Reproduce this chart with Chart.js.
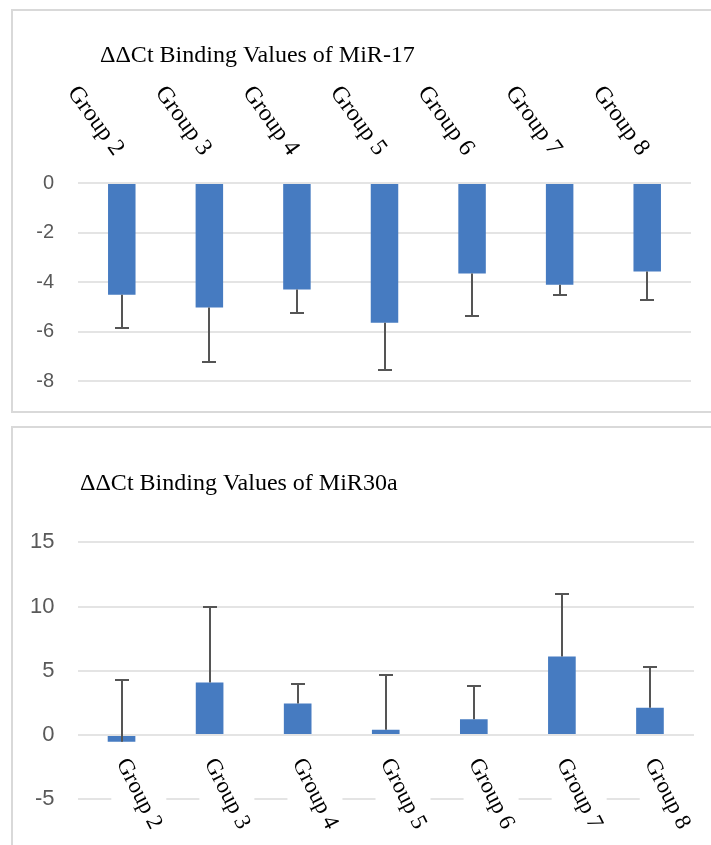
<!DOCTYPE html>
<html>
<head>
<meta charset="utf-8">
<script src="https://cdn.jsdelivr.net/npm/chart.js@4"></script>
<style>
  html, body { margin: 0; padding: 0; background: #fff; }
  body { width: 711px; height: 845px; overflow: hidden; position: relative; }
  .panel { position: absolute; left: 11px; width: 800px; border: 2px solid #d9d9d9; box-sizing: border-box; }
  #p1 { top: 9px; height: 404px; }
  #p2 { top: 426px; height: 500px; }
  canvas { position: absolute; left: 0; }
  #c1 { top: 0; }
  #c2 { top: 420px; }
</style>
</head>
<body>
<div class="panel" id="p1"></div>
<div class="panel" id="p2"></div>
<canvas id="c1" width="711" height="420"></canvas>
<canvas id="c2" width="711" height="425"></canvas>
<script>
// ---- data ----
const categories = ['Group 2', 'Group 3', 'Group 4', 'Group 5', 'Group 6', 'Group 7', 'Group 8'];
const mir17Values = [-4.52, -5.03, -4.30, -5.65, -3.66, -4.11, -3.58];
const mir17Errors = [1.33, 2.20, 0.96, 1.90, 1.72, 0.42, 1.15];   // drawn downward
const mir30aValues = [-0.52, 4.08, 2.46, 0.41, 1.23, 6.12, 2.12];
const mir30aErrors = [4.83, 5.86, 1.51, 4.25, 2.62, 4.88, 3.20];  // drawn upward
const mir17Ticks = [0, -2, -4, -6, -8];
const mir30aTicks = [15, 10, 5, 0, -5];
const mir17Title = 'ΔΔCt Binding Values of MiR-17';
const mir30aTitle = 'ΔΔCt Binding Values of MiR30a';

const BAR_COLOR = '#467bc1';
const GRID_COLOR = '#e4e4e4';
const TICK_COLOR = '#595959';
const ERR_COLOR = '#555555';

function errorBarPlugin(errors, direction) {
  return {
    id: 'errorBars',
    afterDatasetsDraw(chart) {
      const ctx = chart.ctx;
      const ys = chart.scales.y;
      const meta = chart.getDatasetMeta(0);
      const vals = chart.data.datasets[0].data;
      ctx.save();
      ctx.strokeStyle = ERR_COLOR;
      ctx.lineWidth = 2;
      meta.data.forEach((bar, i) => {
        const v = vals[i];
        const end = v + direction * errors[i];
        const x = Math.round(bar.x);
        const y0 = ys.getPixelForValue(v);
        const y1 = Math.round(ys.getPixelForValue(end));
        ctx.beginPath();
        ctx.moveTo(x, y0);
        ctx.lineTo(x, y1);
        ctx.moveTo(x - 7, y1);
        ctx.lineTo(x + 7, y1);
        ctx.stroke();
      });
      ctx.restore();
    }
  };
}

function labelPlugin(cfg) {
  return {
    id: 'catLabels',
    afterDraw(chart) {
      const ctx = chart.ctx;
      const xs = chart.scales.x;
      const ys = chart.scales.y;
      const ang = cfg.angle * Math.PI / 180;
      const cos = Math.cos(ang), sin = Math.sin(ang);
      const baseY = cfg.atZero ? ys.getPixelForValue(0) : chart.chartArea.top;
      ctx.save();
      ctx.font = cfg.font;
      ctx.textBaseline = 'middle';
      ctx.textAlign = cfg.align;
      const items = categories.map((c, i) => ({ c, ax: xs.getPixelForValue(i) + cfg.dx, ay: baseY + cfg.dy }));
      if (cfg.clear) {
        ctx.fillStyle = '#fff';
        items.forEach(it => {
          const w = ctx.measureText(it.c).width;
          const h = cfg.size;
          const t0 = cfg.align === 'left' ? 0 : -w, t1 = cfg.align === 'left' ? w : 0;
          const xsArr = [], ysArr = [];
          [t0, t1].forEach(t => [-h / 2, h / 2].forEach(s => {
            xsArr.push(it.ax + t * cos - s * sin);
            ysArr.push(it.ay + t * sin + s * cos);
          }));
          const minX = Math.min(...xsArr), maxX = Math.max(...xsArr);
          const minY = Math.min(...ysArr), maxY = Math.max(...ysArr);
          ctx.fillRect(minX, minY, maxX - minX, maxY - minY);
        });
      }
      ctx.fillStyle = '#000';
      items.forEach(it => {
        ctx.save();
        ctx.translate(it.ax, it.ay);
        ctx.rotate(ang);
        ctx.fillText(it.c, 0, 0);
        ctx.restore();
      });
      // title
      ctx.font = '24px "Liberation Serif", "Times New Roman", serif';
      ctx.textAlign = 'left';
      ctx.textBaseline = 'alphabetic';
      ctx.fillText(cfg.title, cfg.titleX, cfg.titleY);
      ctx.restore();
    }
  };
}

function makeChart(canvasId, values, ticks, padding, yWidth, tickFont, tickPad, plugins) {
  const tmin = Math.min(...ticks), tmax = Math.max(...ticks);
  const step = Math.abs(ticks[0] - ticks[1]);
  return new Chart(document.getElementById(canvasId), {
    type: 'bar',
    data: {
      labels: categories,
      datasets: [{
        data: values,
        backgroundColor: BAR_COLOR,
        borderWidth: 0,
        barPercentage: 0.314,
        categoryPercentage: 1.0
      }]
    },
    options: {
      responsive: false,
      animation: false,
      devicePixelRatio: 1,
      events: [],
      layout: { padding: padding },
      plugins: { legend: { display: false }, tooltip: { enabled: false }, title: { display: false } },
      scales: {
        x: { type: 'category', display: false, offset: true },
        y: {
          min: tmin, max: tmax,
          ticks: { stepSize: step, color: TICK_COLOR, font: tickFont, padding: tickPad },
          grid: { color: GRID_COLOR, lineWidth: 2, drawTicks: false },
          border: { display: false },
          afterFit(scale) { scale.width = yWidth; }
        }
      }
    },
    plugins: plugins
  });
}

makeChart('c1', mir17Values, mir17Ticks,
  { left: 0, top: 183, right: 20, bottom: 39 }, 78,
  { family: '"Liberation Sans", Arial, sans-serif', size: 20 }, 24,
  [errorBarPlugin(mir17Errors, -1),
   labelPlugin({ angle: 54, align: 'right', atZero: false, dx: -3, dy: -30, size: 24,
     font: '24px "Liberation Serif", "Times New Roman", serif', clear: false,
     title: mir17Title, titleX: 100, titleY: 62 })]);

makeChart('c2', mir30aValues, mir30aTicks,
  { left: 0, top: 122.3, right: 17, bottom: 45.7 }, 77.5,
  { family: '"Liberation Sans", Arial, sans-serif', size: 22 }, 23,
  [errorBarPlugin(mir30aErrors, 1),
   labelPlugin({ angle: 63, align: 'left', atZero: true, dx: 0, dy: 25, size: 23,
     font: '23px "Liberation Serif", "Times New Roman", serif', clear: true,
     title: mir30aTitle, titleX: 80, titleY: 70 })]);
</script>
</body>
</html>
